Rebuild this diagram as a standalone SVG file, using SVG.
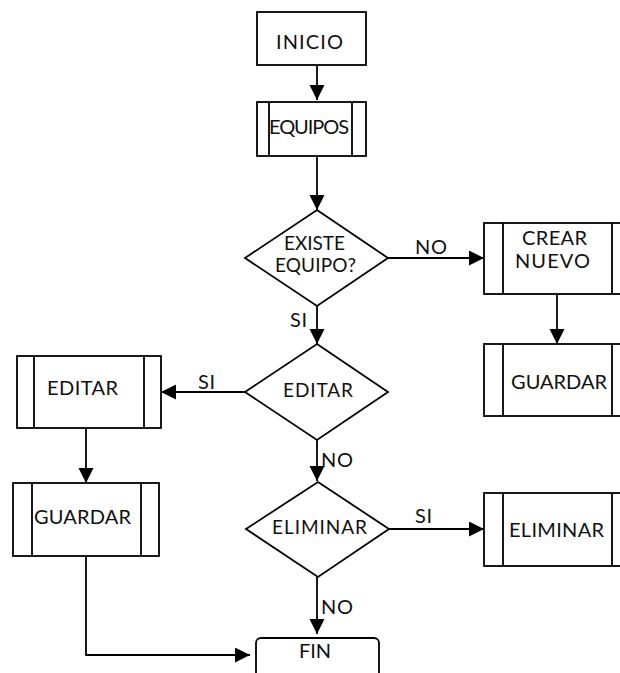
<svg xmlns="http://www.w3.org/2000/svg" width="620" height="673" viewBox="0 0 620 673">
<style>
.s{fill:#fff;stroke:#000;stroke-width:1.8}
.l{fill:none;stroke:#000;stroke-width:1.8}
.c{fill:none;stroke:#000;stroke-width:1.8;marker-end:url(#ah)}
text{font-family:Lato,"Liberation Sans",Arial,sans-serif;font-size:20px;fill:#111}
.d{font-size:19px}
</style>
<defs>
<marker id="ah" markerUnits="userSpaceOnUse" markerWidth="16" markerHeight="16" refX="15" refY="7.5" orient="auto">
<path d="M0,0 L15,7.5 L0,15 z" fill="#000"/>
</marker>
</defs>
<rect width="620" height="673" fill="#fff"/>
<g id="connectors">
<path class="c" d="M317,65 V100"/>
<path class="c" d="M317,156 V210"/>
<path class="c" d="M388,258 H484"/>
<path class="c" d="M557,294 V344"/>
<path class="c" d="M317,306 V344"/>
<path class="c" d="M245,392 H161"/>
<path class="c" d="M86,428 V483"/>
<path class="c" d="M86,556 V655 H250"/>
<path class="c" d="M317,440 V481"/>
<path class="c" d="M389,529 H484"/>
<path class="c" d="M317,577 V634"/>
<text x="415" y="254" textLength="32" lengthAdjust="spacing">NO</text>
<text x="290" y="327" textLength="17" lengthAdjust="spacing">SI</text>
<text x="198" y="389" textLength="17" lengthAdjust="spacing">SI</text>
<text x="321" y="467" textLength="32" lengthAdjust="spacing">NO</text>
<text x="415" y="523" textLength="17" lengthAdjust="spacing">SI</text>
<text x="321" y="614" textLength="32" lengthAdjust="spacing">NO</text>
</g>
<g id="inicio">
<rect class="s" x="257" y="12" width="109" height="53"/>
<text x="276" y="49" textLength="67" lengthAdjust="spacing">INICIO</text>
</g>
<g id="equipos">
<rect class="s" x="257" y="102" width="109" height="54"/>
<path class="l" d="M269,102 V156 M352,102 V156"/>
<text x="269" y="134" textLength="80" lengthAdjust="spacing">EQUIPOS</text>
</g>
<g id="existe">
<path class="s" d="M317,210 L388,258 L317,306 L245,258 Z"/>
<text class="d" x="284" y="250" textLength="61" lengthAdjust="spacing">EXISTE</text>
<text class="d" x="275" y="272" textLength="81" lengthAdjust="spacing">EQUIPO?</text>
</g>
<g id="crear">
<rect class="s" x="484" y="223" width="146" height="71"/>
<path class="l" d="M503,223 V294 M612,223 V294"/>
<text x="522" y="245" textLength="65" lengthAdjust="spacing">CREAR</text>
<text x="515" y="268" textLength="75" lengthAdjust="spacing">NUEVO</text>
</g>
<g id="guardar2">
<rect class="s" x="484" y="344" width="146" height="72"/>
<path class="l" d="M503,344 V416 M612,344 V416"/>
<text x="511" y="389" textLength="96" lengthAdjust="spacing">GUARDAR</text>
</g>
<g id="editar-d">
<path class="s" d="M317,344 L388,392 L317,440 L245,392 Z"/>
<text class="d" x="283" y="397" textLength="70" lengthAdjust="spacing">EDITAR</text>
</g>
<g id="editar">
<rect class="s" x="17" y="356" width="144" height="72"/>
<path class="l" d="M34,356 V428 M144,356 V428"/>
<text x="47" y="395" textLength="71" lengthAdjust="spacing">EDITAR</text>
</g>
<g id="guardar1">
<rect class="s" x="13" y="483" width="146" height="73"/>
<path class="l" d="M32,483 V556 M141,483 V556"/>
<text x="34" y="524" textLength="97" lengthAdjust="spacing">GUARDAR</text>
</g>
<g id="eliminar-d">
<path class="s" d="M318,482 L389,529 L318,577 L246,529 Z"/>
<text class="d" x="272" y="534" textLength="95" lengthAdjust="spacing">ELIMINAR</text>
</g>
<g id="eliminar">
<rect class="s" x="484" y="493" width="146" height="73"/>
<path class="l" d="M503,493 V566 M612,493 V566"/>
<text x="509" y="537" textLength="95" lengthAdjust="spacing">ELIMINAR</text>
</g>
<g id="fin">
<rect class="s" x="256" y="638" width="123" height="50" rx="5"/>
<text x="299" y="658" textLength="32" lengthAdjust="spacing">FIN</text>
</g>
</svg>
